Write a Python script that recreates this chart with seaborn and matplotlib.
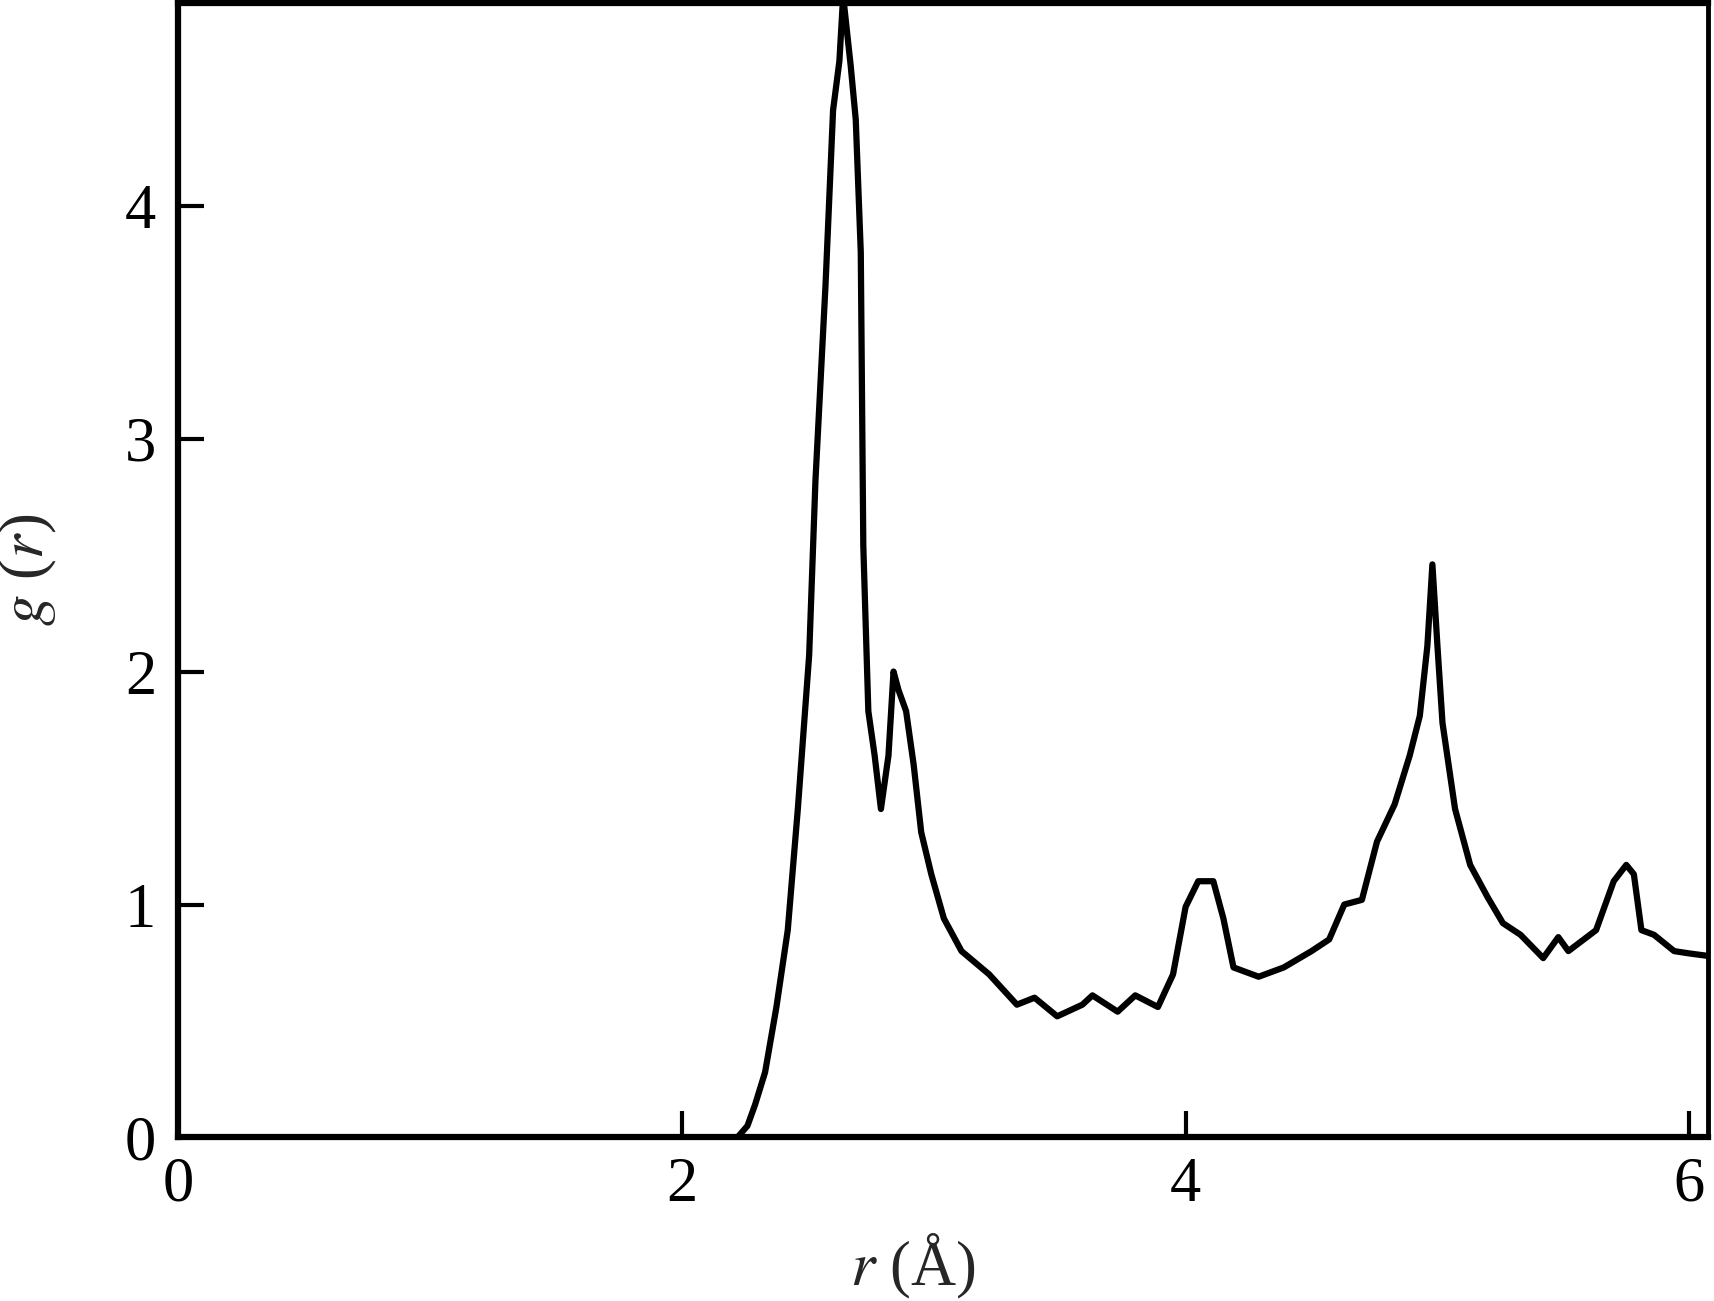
import numpy as np
import pandas as pd
import matplotlib
matplotlib.use("Agg")
import matplotlib.pyplot as plt
import seaborn as sns

# radial distribution function
r_vals = [0.0, 2.22, 2.26, 2.29, 2.33, 2.375, 2.42, 2.46, 2.505, 2.53, 2.55, 2.57,
          2.60, 2.625, 2.64, 2.67, 2.69, 2.71, 2.72, 2.74, 2.765, 2.79, 2.82, 2.84,
          2.86, 2.89, 2.92, 2.95, 2.99, 3.04, 3.11, 3.22, 3.33, 3.40, 3.49, 3.59,
          3.63, 3.73, 3.80, 3.89, 3.95, 4.00, 4.05, 4.11, 4.15, 4.19, 4.29, 4.39,
          4.50, 4.57, 4.63, 4.70, 4.76, 4.83, 4.89, 4.93, 4.96, 4.98, 5.00, 5.02,
          5.07, 5.13, 5.20, 5.26, 5.33, 5.42, 5.48, 5.52, 5.63, 5.70, 5.75, 5.78,
          5.81, 5.86, 5.94, 6.00, 6.07]
g_vals = [0.0, 0.0, 0.05, 0.14, 0.28, 0.56, 0.89, 1.41, 2.07, 2.82, 3.24, 3.66,
          4.41, 4.62, 4.90, 4.60, 4.37, 3.80, 2.54, 1.83, 1.64, 1.41, 1.64, 2.00,
          1.92, 1.83, 1.60, 1.31, 1.13, 0.94, 0.80, 0.70, 0.57, 0.60, 0.52, 0.57,
          0.61, 0.54, 0.61, 0.56, 0.70, 0.99, 1.10, 1.10, 0.94, 0.73, 0.69, 0.73,
          0.80, 0.85, 1.00, 1.02, 1.27, 1.43, 1.64, 1.81, 2.11, 2.46, 2.11, 1.78,
          1.41, 1.17, 1.03, 0.92, 0.87, 0.77, 0.86, 0.80, 0.89, 1.10, 1.17, 1.13,
          0.89, 0.87, 0.80, 0.79, 0.78]

df = pd.DataFrame({"r": r_vals, "g": g_vals})

sns.set_style("ticks")
plt.rcParams["font.family"] = ["Liberation Serif", "DejaVu Serif"]
plt.rcParams["mathtext.fontset"] = "stix"

fig = plt.figure(figsize=(17.15, 13.01), dpi=100)
ax = fig.add_axes([0.104, 0.1257, 0.892, 0.872])

sns.lineplot(data=df, x="r", y="g", ax=ax, color="black", linewidth=4.5,
             estimator=None, sort=False)

ax.set_xlim(0, 6.075)
ax.set_ylim(0, 4.87)
ax.set_xticks([0, 2, 4, 6])
ax.set_yticks([0, 1, 2, 3, 4])

for side in ["left", "bottom", "top", "right"]:
    ax.spines[side].set_linewidth(4.5)
    ax.spines[side].set_color("black")
ax.spines["right"].set_linewidth(3.5)

ax.tick_params(axis="both", direction="in", length=19, width=3,
               labelsize=45, colors="black")
ax.tick_params(axis="x", pad=14)
ax.tick_params(axis="y", pad=16)

ax.set_xlabel("$r$ (Å)", fontsize=45)
ax.set_ylabel("$g$ ($r$)", fontsize=45)
ax.xaxis.set_label_coords(0.48, -0.083)
ax.yaxis.set_label_coords(-0.078, 0.5)

fig.savefig("out.png", dpi=100)
